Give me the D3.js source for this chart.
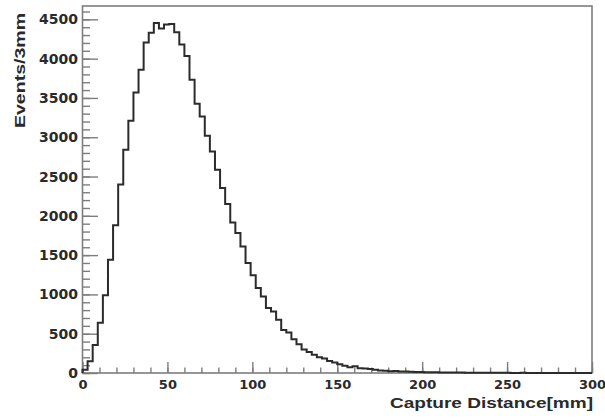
<!DOCTYPE html>
<html>
<head>
<meta charset="utf-8">
<script src="https://cdn.jsdelivr.net/npm/d3@7"></script>
<style>
  body { margin: 0; background: #fff; }
  svg { display: block; }
</style>
</head>
<body>
<div id="chart"></div>
<script>
// 3 mm bins from 0 to 300 mm
const binWidth = 3;
const counts = [
    40, 150, 355, 640, 990, 1440, 1880, 2400, 2840, 3210,
    3570, 3860, 4206, 4330, 4453, 4385, 4435, 4440, 4335, 4180,
    4035, 3732, 3425, 3265, 3019, 2820, 2587, 2354, 2150, 1916,
    1781, 1611, 1399, 1245, 1081, 975, 827, 784, 678, 548,
    515, 430, 365, 300, 268, 233, 200, 186, 152, 135,
    112, 92, 73, 85, 60, 56, 52, 40, 32, 29,
    22, 24, 20, 18, 15, 14, 12, 10, 10, 8,
    7, 6, 6, 5, 5, 4, 4, 3, 3, 3,
    2, 2, 2, 2, 1, 1, 2, 1, 1, 1,
    1, 0, 1, 0, 1, 0, 0, 0, 0, 0
];
const xTicks = [0, 50, 100, 150, 200, 250, 300];
const yTicks = [0, 500, 1000, 1500, 2000, 2500, 3000, 3500, 4000, 4500];
const xTitle = "Capture Distance[mm]";
const yTitle = "Events/3mm";

const width = 605, height = 420;
const frame = { left: 82.5, right: 592, top: 6, bottom: 373 };

const svg = d3.select("#chart")
    .append("svg")
    .attr("width", width)
    .attr("height", height);

const x = d3.scaleLinear()
    .domain([0, 300])
    .range([frame.left, frame.right]);

const y = d3.scaleLinear()
    .domain([0, 4670])
    .range([frame.bottom, frame.top]);

const axisColor = "#7d7d7d";
const textColor = "#2a2a2a";

// frame
svg.append("rect")
    .attr("x", frame.left)
    .attr("y", frame.top)
    .attr("width", frame.right - frame.left)
    .attr("height", frame.bottom - frame.top)
    .attr("fill", "none")
    .attr("stroke", axisColor)
    .attr("stroke-width", 1.6);

// minor ticks
const xMinor = d3.range(0, 301, 10);
const yMinor = d3.range(0, 4601, 100);

svg.append("g")
    .attr("transform", `translate(0,${frame.bottom})`)
    .call(d3.axisBottom(x).tickValues(xMinor).tickSize(-5.5).tickFormat(""))
    .call(g => g.select(".domain").remove())
    .call(g => g.selectAll("line").attr("stroke", axisColor).attr("stroke-width", 1.4));

svg.append("g")
    .attr("transform", `translate(${frame.left},0)`)
    .call(d3.axisLeft(y).tickValues(yMinor).tickSize(-7.5).tickFormat(""))
    .call(g => g.select(".domain").remove())
    .call(g => g.selectAll("line").attr("stroke", axisColor).attr("stroke-width", 1.4));

// major ticks + labels
svg.append("g")
    .attr("transform", `translate(0,${frame.bottom})`)
    .call(d3.axisBottom(x).tickValues(xTicks).tickSize(-11).tickPadding(7).tickFormat(d3.format("d")))
    .call(g => g.select(".domain").remove())
    .call(g => g.selectAll("line").attr("stroke", axisColor).attr("stroke-width", 1.4))
    .call(g => g.selectAll("text")
        .attr("fill", textColor)
        .attr("font-family", "'DejaVu Sans', sans-serif")
        .attr("font-weight", "bold")
        .attr("font-size", "13px"));

svg.append("g")
    .attr("transform", `translate(${frame.left},0)`)
    .call(d3.axisLeft(y).tickValues(yTicks).tickSize(-15.5).tickPadding(4.5).tickFormat(d3.format("d")))
    .call(g => g.select(".domain").remove())
    .call(g => g.selectAll("line").attr("stroke", axisColor).attr("stroke-width", 1.4))
    .call(g => g.selectAll("text")
        .attr("fill", textColor)
        .attr("font-family", "'DejaVu Sans', sans-serif")
        .attr("font-weight", "bold")
        .attr("font-size", "14px"));

// histogram outline
const pts = [[0, 0]];
counts.forEach((c, i) => pts.push([i * binWidth, c]));
pts.push([counts.length * binWidth, counts[counts.length - 1]]);
pts.push([counts.length * binWidth, 0]);

const line = d3.line()
    .x(d => x(d[0]))
    .y(d => y(d[1]))
    .curve(d3.curveStepAfter);

svg.append("path")
    .datum(pts)
    .attr("d", line)
    .attr("fill", "none")
    .attr("stroke", "#2b2b2b")
    .attr("stroke-width", 2);

// axis titles
svg.append("text")
    .attr("x", 593)
    .attr("y", 408)
    .attr("text-anchor", "end")
    .attr("font-family", "'Liberation Sans', sans-serif")
    .attr("font-weight", "bold")
    .attr("font-size", "15px")
    .attr("fill", textColor)
    .attr("textLength", 203)
    .attr("lengthAdjust", "spacingAndGlyphs")
    .text(xTitle);

svg.append("text")
    .attr("transform", "translate(25,13) rotate(-90)")
    .attr("text-anchor", "end")
    .attr("font-family", "'Liberation Sans', sans-serif")
    .attr("font-weight", "bold")
    .attr("font-size", "15px")
    .attr("fill", textColor)
    .attr("textLength", 115)
    .attr("lengthAdjust", "spacingAndGlyphs")
    .text(yTitle);
</script>
</body>
</html>
